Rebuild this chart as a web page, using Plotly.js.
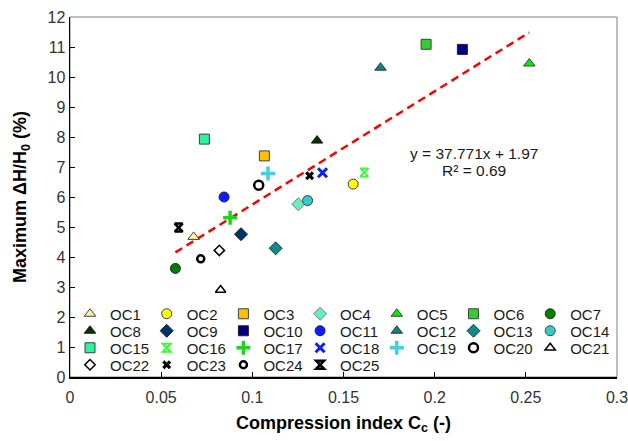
<!DOCTYPE html>
<html>
<head>
<meta charset="utf-8">
<script src="https://cdn.plot.ly/plotly-3.0.1.min.js"></script>
<style>html,body{margin:0;padding:0;background:#fff;}#chart{width:628px;height:441px;}</style>
</head>
<body>
<div id="chart"></div>
<script>
// ---- data ----
var sampleNames = ["OC1","OC2","OC3","OC4","OC5","OC6","OC7","OC8","OC9","OC10","OC11","OC12","OC13",
                   "OC14","OC15","OC16","OC17","OC18","OC19","OC20","OC21","OC22","OC23","OC24","OC25"];
var compressionIndex = [0.0678,0.1553,0.1066,0.1252,0.2519,0.1953,0.0578,0.1355,0.0938,0.2152,0.0845,0.1703,0.1128,
                        0.1303,0.0737,0.1614,0.0878,0.1385,0.1086,0.1035,0.0826,0.0819,0.1314,0.0717,0.0596];
var maxSettlement = [4.67,6.43,7.37,5.76,10.45,11.09,3.62,7.88,4.76,10.92,6.00,10.31,4.29,
                     5.88,7.93,6.82,5.31,6.81,6.78,6.39,2.90,4.22,6.71,3.94,4.98];
var fitSlope = 37.771;
var fitIntercept = 1.97;
var fitLabel = "y = 37.771x + 1.97";
var r2Label = "R² = 0.69";
var xTickVals = [0,0.05,0.1,0.15,0.2,0.25,0.3];
var xTickText = ["0","0.05","0.1","0.15","0.2","0.25","0.3"];
var yTickVals = [0,1,2,3,4,5,6,7,8,9,10,11,12];

// ---- styles ----
var OL = '#404040';
var markerStyles = [
  {symbol:'triangle-up', color:'#FFF59D', line:{color:OL,width:1}},
  {symbol:'circle', color:'#FFFF00', line:{color:'#3a3a5a',width:1}},
  {symbol:'square', color:'#FFC000', line:{color:OL,width:1}},
  {symbol:'diamond', color:'#66EEBB', line:{color:'#808080',width:1}},
  {symbol:'triangle-up', color:'#00EE00', line:{color:OL,width:1}},
  {symbol:'square', color:'#33CC33', line:{color:OL,width:1}},
  {symbol:'circle', color:'#008000', line:{color:'#1a3a1a',width:1}},
  {symbol:'triangle-up', color:'#0A2E0A', line:{color:'#0A2E0A',width:1}},
  {symbol:'diamond', color:'#003366', line:{color:'#1a1a3a',width:1}},
  {symbol:'square', color:'#000080', line:{color:'#202040',width:1}},
  {symbol:'circle', color:'#0A1EFF', line:{color:'#202050',width:1}},
  {symbol:'triangle-up', color:'#1F7A7A', line:{color:'#1a4040',width:1}},
  {symbol:'diamond', color:'#138A8A', line:{color:'#1a4040',width:1}},
  {symbol:'circle', color:'#33CCCC', line:{color:OL,width:1}},
  {symbol:'square', color:'#2BF59A', line:{color:OL,width:1}},
  {symbol:'hourglass-open', color:'#33FF33', line:{color:'#33FF33',width:2}, size:8},
  {symbol:'cross-thin-open', color:'#1FD41F', line:{color:'#1FD41F',width:3.5}},
  {symbol:'x-thin-open', color:'#0A1EFF', line:{color:'#0A1EFF',width:3}, size:9},
  {symbol:'cross-thin-open', color:'#40D0E0', line:{color:'#40D0E0',width:3.5}},
  {symbol:'circle-open', color:'#000000', line:{color:'#000000',width:2.5}, size:9},
  {symbol:'triangle-up', color:'#FFFFFF', line:{color:'#000000',width:1.5}, size:9},
  {symbol:'diamond', color:'#FFFFFF', line:{color:'#000000',width:1.5}, size:8},
  {symbol:'x', color:'#000000', line:{color:'#000000',width:0}, size:8},
  {symbol:'circle-open', color:'#000000', line:{color:'#000000',width:2.5}, size:7},
  {symbol:'hourglass-open', color:'#000000', line:{color:'#000000',width:2.5}, size:8}
];

var FONT = 'Arial, "Liberation Sans", sans-serif';
var legendIds = ['legend','legend2','legend3','legend4'];
var perRow = 7;

var traces = [];
// trendline from the fit equation across the data range
var xMin = Math.min.apply(null, compressionIndex);
var xMax = Math.max.apply(null, compressionIndex);
traces.push({
  x:[xMin,xMax], y:[fitSlope*xMin+fitIntercept, fitSlope*xMax+fitIntercept],
  mode:'lines', type:'scatter', showlegend:false, hoverinfo:'skip',
  line:{color:'#FF0000', width:2.5, dash:'8px,5px'}
});
for (var i=0;i<sampleNames.length;i++){
  var s = markerStyles[i];
  var t = {
    x:[compressionIndex[i]], y:[maxSettlement[i]], name:sampleNames[i],
    type:'scatter', mode:'markers',
    legend: legendIds[Math.floor(i/perRow)],
    marker:{symbol:s.symbol, color:s.color, size:(s.size||10), line:s.line}
  };
  if (i % perRow === perRow-1 || i === sampleNames.length-1) t.legendwidth = 42;
  traces.push(t);
}

function legendRow(ypx){
  return {orientation:'h', x:0, xanchor:'left', y:(377-ypx)/360, yanchor:'middle',
    entrywidth:31.7, entrywidthmode:'pixels', bgcolor:'rgba(0,0,0,0)', borderwidth:0,
    font:{family:FONT, size:15, color:'#1a1a1a'}, traceorder:'normal'};
}

var layout = {
  width:628, height:441,
  margin:{l:70, r:11, t:17, b:64},
  paper_bgcolor:'#fff', plot_bgcolor:'#fff',
  font:{family:FONT, color:'#262626'},
  showlegend:true,
  legend: legendRow(314),
  legend2: legendRow(331),
  legend3: legendRow(348),
  legend4: legendRow(365),
  xaxis:{
    range:[0,0.3], tickvals:xTickVals, ticktext:xTickText,
    showgrid:false, zeroline:false, showline:true, linecolor:'#000', linewidth:1.5,
    ticks:'inside', ticklen:5, tickcolor:'#000', tickwidth:1,
    ticklabeloverflow:'allow', ticklabelstandoff:5,
    tickfont:{family:FONT, size:16, color:'#333'},
    title:{text:'<b>Compression index C<sub>c</sub> (-)</b>', font:{family:FONT, size:18, color:'#000'}, standoff:11}
  },
  yaxis:{
    range:[0,12], tickvals:yTickVals,
    showgrid:false, zeroline:false, showline:true, linecolor:'#000', linewidth:1.5,
    ticks:'inside', ticklen:5, tickcolor:'#000', tickwidth:1,
    tickfont:{family:FONT, size:16, color:'#333'},
    title:{text:'<b>Maximum ΔH/H<sub>0</sub> (%)</b>', font:{family:FONT, size:18, color:'#000'}, standoff:16}
  },
  shapes:[{type:'rect', xref:'paper', yref:'paper', x0:0, x1:1, y0:0, y1:1,
           line:{color:'#7F7F7F', width:1}, layer:'below'}],
  annotations:[
    {xref:'paper', yref:'paper', x:(474-70)/547, y:(377-153.3)/360, xanchor:'center', yanchor:'middle',
     text:fitLabel, showarrow:false, font:{family:FONT, size:15.5, color:'#1a1a1a'}},
    {xref:'paper', yref:'paper', x:(474-70)/547, y:(377-170.7)/360, xanchor:'center', yanchor:'middle',
     text:r2Label, showarrow:false, font:{family:FONT, size:15.5, color:'#1a1a1a'}}
  ]
};

Plotly.newPlot('chart', traces, layout, {displayModeBar:false, staticPlot:true});
</script>
</body>
</html>
